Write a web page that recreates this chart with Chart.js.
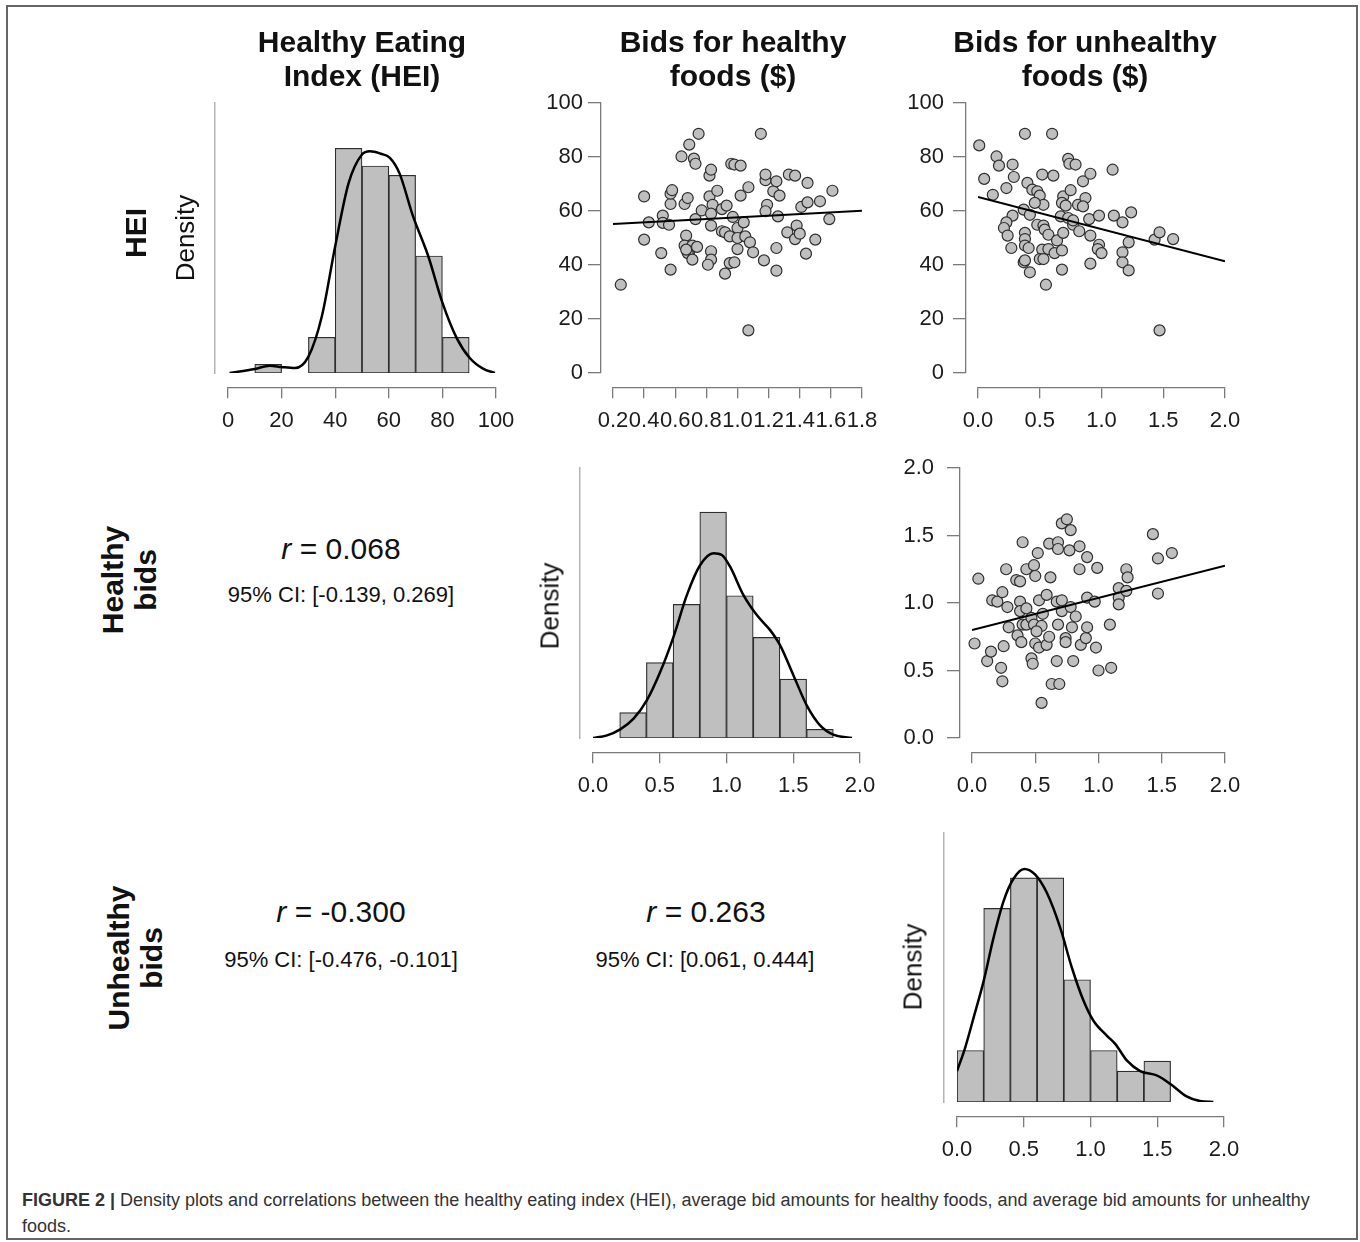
<!DOCTYPE html>
<html>
<head>
<meta charset="utf-8">
<script src="https://cdn.jsdelivr.net/npm/chart.js@4.4.1/dist/chart.umd.min.js"></script>
<style>
  body { margin: 0; background: #fff; width: 1360px; height: 1242px; position: relative; overflow: hidden;
         font-family: "Liberation Sans", Arial, sans-serif; color: #111; }
  .frame { position: absolute; left: 6px; top: 5px; width: 1348px; height: 1231px; border: 2px solid #666; }
  canvas { position: absolute; }
  .lbl { position: absolute; white-space: nowrap; transform: translate(-50%, -50%); }
  .head { font-weight: bold; font-size: 30px; line-height: 34px; text-align: center; }
  .row { font-weight: bold; font-size: 30px; line-height: 33px; text-align: center;
         transform: translate(-50%, -50%) rotate(-90deg); }
  .dens { font-size: 26px; transform: translate(-50%, -50%) rotate(-90deg); }
  .rval { font-size: 30px; }
  .ci { font-size: 22px; }
  .caption { position: absolute; left: 22px; top: 1187px; font-size: 18px; line-height: 26px; color: #333; white-space: nowrap; }
</style>
</head>
<body>
<div class="frame"></div>
<canvas id="histHei"></canvas>
<canvas id="scatHealthyHei"></canvas>
<canvas id="scatUnhealthyHei"></canvas>
<canvas id="histHealthy"></canvas>
<canvas id="scatUnhealthyHealthy"></canvas>
<canvas id="histUnhealthy"></canvas>

<div class="lbl head" style="left:362px; top:59px;">Healthy Eating<br>Index (HEI)</div>
<div class="lbl head" style="left:733px; top:59px;">Bids for healthy<br>foods ($)</div>
<div class="lbl head" style="left:1085px; top:59px;">Bids for unhealthy<br>foods ($)</div>

<div class="lbl row" style="left:135px; top:233px;">HEI</div>
<div class="lbl row" style="left:129px; top:580px;">Healthy<br>bids</div>
<div class="lbl row" style="left:135px; top:958px;">Unhealthy<br>bids</div>

<div class="lbl dens" style="left:185px; top:238px;">Density</div>
<div class="lbl dens" style="left:550px; top:606px;">Density</div>
<div class="lbl dens" style="left:913px; top:967px;">Density</div>

<div class="lbl rval" style="left:341px; top:549px;"><i>r</i> = 0.068</div>
<div class="lbl ci" style="left:341px; top:595px;">95% CI: [-0.139, 0.269]</div>
<div class="lbl rval" style="left:341px; top:912px;"><i>r</i> = -0.300</div>
<div class="lbl ci" style="left:341px; top:960px;">95% CI: [-0.476, -0.101]</div>
<div class="lbl rval" style="left:706px; top:912px;"><i>r</i> = 0.263</div>
<div class="lbl ci" style="left:705px; top:960px;">95% CI: [0.061, 0.444]</div>

<div class="caption"><b>FIGURE 2 |</b> Density plots and correlations between the healthy eating index (HEI), average bid amounts for healthy foods, and average bid amounts for unhealthy<br>foods.</div>

<script>
const FONT = "'Liberation Sans', Arial, sans-serif";
const GRAY_FILL = "#bfbfbf";
const EDGE = "#2e2e2e";
const AXIS = "#7a7a7a";
const TICK_TEXT = "#1c1c1c";

// tick labels
const HEI_TICKS = [0, 20, 40, 60, 80, 100];
const HEALTHY_X_TICKS = [0.2, 0.4, 0.6, 0.8, 1.0, 1.2, 1.4, 1.6, 1.8];
const BID_TICKS = [0.0, 0.5, 1.0, 1.5, 2.0];

// HEI histogram (density) and kernel curve
const heiBins = [15, 35, 45, 55, 65, 75, 85];
const heiDensity = [0.00106, 0.00436, 0.02746, 0.0253, 0.02416, 0.0143, 0.00436];
const heiCurveX = [0.6, 10, 15.6, 20, 25, 30, 35, 40, 45, 50, 53, 57, 60.4, 64, 69, 74.7, 80, 85.3, 90.3, 95.3, 99.6];
const heiCurveY = [0, 0.00049, 0.0009, 0.00073, 0.0006, 0.002, 0.0069, 0.0155, 0.0232, 0.0267, 0.0271, 0.0268,
  0.0263, 0.0244, 0.0192, 0.0143, 0.0086, 0.0043, 0.0018, 0.0005, 0];

// healthy bids histogram
const healthyBins = [0.3, 0.5, 0.7, 0.9, 1.1, 1.3, 1.5, 1.7];
const healthyDensity = [0.164, 0.487, 0.862, 1.457, 0.918, 0.649, 0.380, 0.056];
const healthyCurveX = [0, 0.105, 0.204, 0.304, 0.404, 0.504, 0.603, 0.703, 0.803, 0.903, 0.965, 1.027, 1.127,
  1.227, 1.327, 1.401, 1.501, 1.601, 1.701, 1.80, 1.94];
const healthyCurveY = [0, 0.017, 0.056, 0.125, 0.244, 0.427, 0.653, 0.922, 1.116, 1.192, 1.181, 1.105, 0.922,
  0.793, 0.696, 0.599, 0.405, 0.211, 0.082, 0.022, 0];

// unhealthy bids histogram
const unhealthyBins = [0.1, 0.3, 0.5, 0.7, 0.9, 1.1, 1.3, 1.5];
const unhealthyDensity = [0.274, 1.029, 1.192, 1.192, 0.65, 0.274, 0.164, 0.217];
const unhealthyCurveX = [0, 0.062, 0.125, 0.2, 0.274, 0.349, 0.424, 0.504, 0.586, 0.673, 0.773, 0.86, 0.948,
  1.022, 1.122, 1.185, 1.272, 1.372, 1.496, 1.596, 1.72, 1.82, 1.92];
const unhealthyCurveY = [0.164, 0.291, 0.45, 0.644, 0.874, 1.068, 1.188, 1.239, 1.209, 1.112, 0.927, 0.715, 0.538,
  0.432, 0.353, 0.309, 0.221, 0.164, 0.141, 0.097, 0.03, 0.005, 0];

// scatter: healthy bids (x) vs HEI (y)
const healthyVsHei = [[0.25,32.7],[0.40,65.4],[0.40,49.4],[0.43,55.8],[0.51,44.4],[0.52,58.3],[0.52,55.6],[0.56,54.9],
  [0.57,62.6],[0.57,66.4],[0.58,67.7],[0.57,38.3],[0.64,80.2],[0.66,62.6],[0.68,64.8],[0.69,84.6],[0.72,79.4],
  [0.73,77.5],[0.75,88.6],[0.67,50.9],[0.66,47.2],[0.69,45.1],[0.71,47.2],[0.68,44.4],[0.71,42.0],[0.74,46.7],
  [0.73,57.0],[0.77,60.2],[0.82,73.1],[0.83,75.3],[0.82,65.4],[0.84,62.3],[0.83,59.0],[0.87,67.5],[0.83,54.6],
  [0.83,45.1],[0.83,42.0],[0.81,40.1],[0.90,60.7],[0.90,52.5],[0.92,52.1],[0.93,62.0],[0.92,36.8],[0.95,40.7],
  [0.98,41.0],[0.96,77.5],[0.98,77.2],[1.02,76.8],[0.97,57.8],[0.95,50.6],[1.00,53.7],[1.00,50.0],[1.00,45.9],
  [1.02,65.7],[1.04,55.8],[1.05,50.6],[1.07,68.8],[1.08,48.4],[1.10,44.7],[1.15,88.6],[1.07,15.8],[1.17,41.7],
  [1.18,71.4],[1.18,73.5],[1.19,62.3],[1.18,59.9],[1.23,67.3],[1.25,71.0],[1.27,65.7],[1.26,58.0],[1.25,46.3],
  [1.25,37.9],[1.33,73.5],[1.37,73.1],[1.32,52.1],[1.37,49.6],[1.38,54.6],[1.40,51.6],[1.41,61.5],[1.45,70.4],
  [1.45,63.2],[1.44,44.2],[1.50,49.4],[1.53,63.6],[1.59,57.0],[1.61,67.5],[0.67,45.7]];
const healthyVsHeiFit = [[0.2, 55.2], [1.8, 60.1]];

// scatter: unhealthy bids (x) vs HEI (y)
const unhealthyVsHei = [[0.01,84.3],[0.05,71.9],[0.12,66.0],[0.15,80.2],[0.17,76.8],[0.28,77.2],[0.29,72.6],
  [0.23,68.5],[0.38,88.6],[0.60,88.6],[0.40,70.4],[0.44,67.9],[0.48,67.3],[0.50,65.7],[0.52,73.5],[0.61,73.1],
  [0.53,62.3],[0.46,63.0],[0.37,60.5],[0.42,58.6],[0.28,58.3],[0.23,55.8],[0.21,53.7],[0.24,50.9],[0.27,46.3],
  [0.38,51.9],[0.38,49.6],[0.38,47.2],[0.41,46.3],[0.37,41.0],[0.38,41.7],[0.42,37.3],[0.48,54.9],[0.53,54.6],
  [0.54,53.1],[0.52,45.7],[0.50,42.2],[0.53,42.2],[0.55,32.7],[0.57,51.2],[0.57,45.9],[0.62,44.4],[0.64,49.1],
  [0.68,45.4],[0.69,51.9],[0.68,38.3],[0.67,58.0],[0.69,65.4],[0.68,63.0],[0.71,62.0],[0.73,79.3],[0.74,77.5],
  [0.79,77.2],[0.75,67.7],[0.73,57.4],[0.77,54.9],[0.81,62.3],[0.82,52.5],[0.85,71.0],[0.87,64.8],[0.85,61.7],
  [0.91,73.8],[0.90,57.0],[0.91,50.9],[0.91,40.5],[0.98,58.3],[0.98,47.5],[0.97,45.9],[1.00,44.4],[1.09,75.3],
  [1.10,58.3],[1.17,55.8],[1.24,59.5],[1.17,44.7],[1.17,41.0],[1.22,48.4],[1.22,38.0],[1.43,49.4],[1.47,52.1],
  [1.58,49.6],[1.47,15.8],[0.77,56.5]];
const unhealthyVsHeiFit = [[0.0, 65.2], [2.0, 41.4]];

// scatter: unhealthy bids (x) vs healthy bids (y)
const unhealthyVsHealthy = [[0.02,0.70],[0.05,1.18],[0.12,0.57],[0.15,0.64],[0.16,1.02],[0.20,1.01],[0.24,1.08],
  [0.23,0.52],[0.24,0.42],[0.25,0.68],[0.27,1.25],[0.28,0.97],[0.29,0.82],[0.35,1.17],[0.38,1.16],[0.38,1.01],
  [0.38,0.94],[0.36,0.76],[0.39,0.71],[0.40,1.45],[0.43,1.25],[0.49,1.28],[0.50,1.20],[0.52,1.37],[0.40,0.84],
  [0.43,0.84],[0.47,0.89],[0.49,0.84],[0.53,1.02],[0.55,0.83],[0.51,0.79],[0.47,0.59],[0.48,0.55],[0.50,0.70],
  [0.53,0.67],[0.59,0.69],[0.55,0.26],[0.61,0.75],[0.62,1.19],[0.61,1.44],[0.59,1.06],[0.56,0.92],[0.63,0.40],
  [0.69,0.40],[0.67,0.57],[0.68,0.84],[0.67,1.01],[0.68,1.45],[0.68,1.40],[0.71,1.59],[0.75,1.62],[0.78,1.54],
  [0.77,1.39],[0.71,1.02],[0.71,0.94],[0.74,0.74],[0.74,0.71],[0.78,0.97],[0.79,0.82],[0.80,0.57],[0.82,0.90],
  [0.85,1.42],[0.85,1.25],[0.86,0.69],[0.90,0.74],[0.91,1.34],[0.91,1.04],[0.91,0.82],[0.97,1.01],[0.99,1.26],
  [0.98,0.67],[1.00,0.50],[1.09,0.84],[1.10,0.52],[1.16,1.11],[1.16,1.04],[1.16,0.99],[1.22,1.09],[1.22,1.25],
  [1.23,1.19],[1.43,1.51],[1.47,1.33],[1.47,1.07],[1.58,1.37],[0.43,0.96]];
const unhealthyVsHealthyFit = [[0.0, 0.80], [2.0, 1.277]];

Chart.defaults.font.family = FONT;
Chart.defaults.animation = false;

const PAD = { left: 90, right: 40, top: 20, bottom: 70 };

function place(id, area) {
  const canvas = document.getElementById(id);
  canvas.width = area.right - area.left + PAD.left + PAD.right;
  canvas.height = area.bottom - area.top + PAD.top + PAD.bottom;
  canvas.style.left = area.left - PAD.left + "px";
  canvas.style.top = area.top - PAD.top + "px";
  return canvas;
}

// value of an axis line placed `px` pixels outside the data range
function outside(min, max, lenPx, px) {
  return min - (px * (max - min)) / lenPx;
}

function fixedTicks(ticks) {
  return (scale) => { scale.ticks = ticks.map((v) => ({ value: v })); };
}

function xAxis(ticks, min, max, atY, fmt) {
  return {
    type: "linear",
    min,
    max,
    offset: false,
    position: { y: atY },
    afterBuildTicks: fixedTicks(ticks),
    border: { display: true, color: AXIS, width: 1.3 },
    grid: { display: true, offset: false, drawOnChartArea: false, drawTicks: true, tickLength: 10,
            color: AXIS, lineWidth: 1.3 },
    ticks: { autoSkip: false, maxRotation: 0, minRotation: 0, padding: 10, color: TICK_TEXT,
             font: { size: 22 }, callback: fmt },
  };
}

// axis line + tick marks, standing off the plot like R's axes
function yAxis(ticks, min, max, atX) {
  return {
    type: "linear",
    min,
    max,
    position: { x: atX },
    afterBuildTicks: fixedTicks(ticks),
    border: { display: true, color: AXIS, width: 1.3 },
    grid: { display: true, drawOnChartArea: false, drawTicks: true, tickLength: 12, color: AXIS, lineWidth: 1.3 },
    ticks: { display: false },
  };
}

// tick labels of the y axis, right-aligned at `atX`
function yLabels(ticks, min, max, atX, fmt) {
  return {
    type: "linear",
    min,
    max,
    position: { x: atX },
    afterBuildTicks: fixedTicks(ticks),
    border: { display: false },
    grid: { display: false, drawTicks: false },
    ticks: { autoSkip: false, padding: 0, color: TICK_TEXT, font: { size: 22 }, callback: fmt },
  };
}

function densityAxis(max, atX) {
  return {
    type: "linear",
    min: 0,
    max,
    position: { x: atX },
    border: { display: true, color: "#b4b4b4", width: 1.5 },
    grid: { display: false },
    ticks: { display: false },
  };
}

const fmtInt = (v) => String(Math.round(v));
const fmt1 = (v) => Number(v).toFixed(1);

function histogram(id, area, xr, ymax, bins, dens, curveX, curveY, ticks, fmt) {
  const canvas = place(id, area);
  const w = area.right - area.left;
  const h = area.bottom - area.top;
  new Chart(canvas, {
    data: {
      datasets: [
        {
          type: "line",
          data: curveX.map((x, i) => ({ x, y: curveY[i] })),
          borderColor: "#000",
          borderWidth: 2.5,
          pointRadius: 0,
          cubicInterpolationMode: "monotone",
          order: 0,
        },
        {
          type: "bar",
          data: bins.map((x, i) => ({ x, y: dens[i] })),
          backgroundColor: GRAY_FILL,
          borderColor: EDGE,
          borderWidth: 1.2,
          borderSkipped: false,
          barPercentage: 1,
          categoryPercentage: 1,
          order: 1,
        },
      ],
    },
    options: {
      responsive: false,
      layout: { padding: PAD },
      plugins: { legend: { display: false }, tooltip: { enabled: false } },
      scales: {
        x: xAxis(ticks, xr[0], xr[1], outside(0, ymax, h, 15), fmt),
        y: densityAxis(ymax, outside(xr[0], xr[1], w, 13)),
      },
    },
  });
}

function scatter(id, area, xr, yr, points, fit, xTicks, yTicks, fmtX, fmtY, labelGap) {
  const canvas = place(id, area);
  const w = area.right - area.left;
  const h = area.bottom - area.top;
  new Chart(canvas, {
    type: "scatter",
    data: {
      datasets: [
        {
          type: "line",
          data: fit.map(([x, y]) => ({ x, y })),
          borderColor: "#000",
          borderWidth: 2,
          pointRadius: 0,
          order: 0,
        },
        {
          data: points.map(([x, y]) => ({ x, y })),
          backgroundColor: GRAY_FILL,
          borderColor: EDGE,
          borderWidth: 1.2,
          pointRadius: 5.5,
          clip: false,
          order: 1,
        },
      ],
    },
    options: {
      responsive: false,
      layout: { padding: PAD },
      plugins: { legend: { display: false }, tooltip: { enabled: false } },
      scales: {
        x: xAxis(xTicks, xr[0], xr[1], outside(yr[0], yr[1], h, 15), fmtX),
        y: yAxis(yTicks, yr[0], yr[1], outside(xr[0], xr[1], w, 12)),
        yl: yLabels(yTicks, yr[0], yr[1], outside(xr[0], xr[1], w, labelGap), fmtY),
      },
    },
  });
}

histogram("histHei", { left: 228, right: 496, top: 103, bottom: 373 }, [0, 100], 0.033,
  heiBins, heiDensity, heiCurveX, heiCurveY, HEI_TICKS, fmtInt);
scatter("scatHealthyHei", { left: 613, right: 862, top: 103, bottom: 373 }, [0.2, 1.8], [0, 100],
  healthyVsHei, healthyVsHeiFit, HEALTHY_X_TICKS, HEI_TICKS, fmt1, fmtInt, 30);
scatter("scatUnhealthyHei", { left: 978, right: 1225, top: 103, bottom: 373 }, [0, 2], [0, 100],
  unhealthyVsHei, unhealthyVsHeiFit, BID_TICKS, HEI_TICKS, fmt1, fmtInt, 34);
histogram("histHealthy", { left: 593, right: 860, top: 468, bottom: 738 }, [0, 2], 1.742,
  healthyBins, healthyDensity, healthyCurveX, healthyCurveY, BID_TICKS, fmt1);
scatter("scatUnhealthyHealthy", { left: 972, right: 1225, top: 468, bottom: 738 }, [0, 2], [0, 2],
  unhealthyVsHealthy, unhealthyVsHealthyFit, BID_TICKS, BID_TICKS, fmt1, fmt1, 38);
histogram("histUnhealthy", { left: 957, right: 1224, top: 833, bottom: 1102 }, [0, 2], 1.43,
  unhealthyBins, unhealthyDensity, unhealthyCurveX, unhealthyCurveY, BID_TICKS, fmt1);
</script>
</body>
</html>
